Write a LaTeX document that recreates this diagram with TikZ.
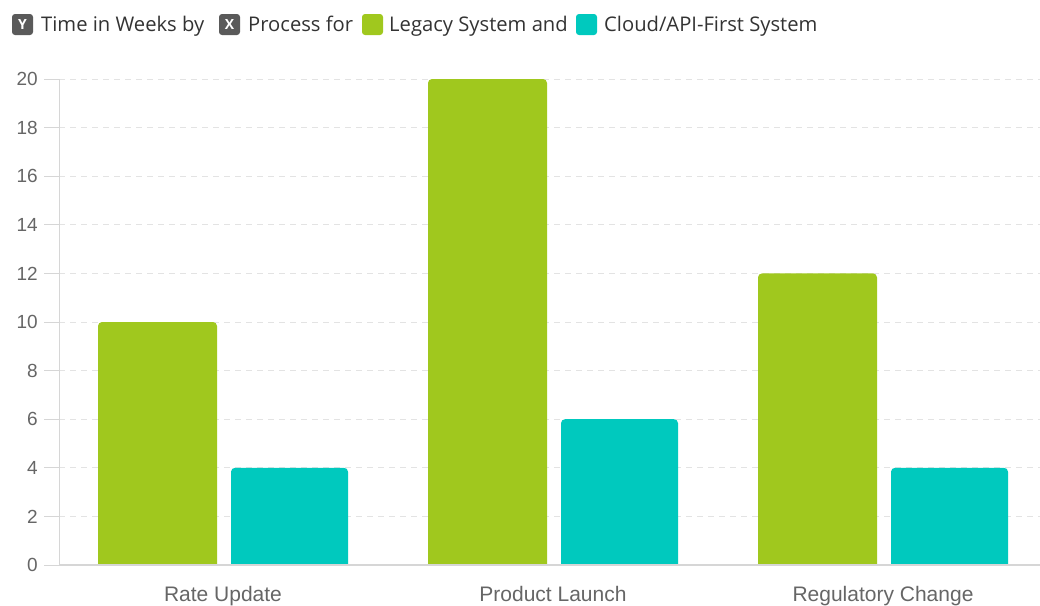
\documentclass[tikz,border=0pt]{standalone}
\usepackage{fontspec}
\setmainfont{Liberation Sans}
\newfontfamily\legfont{Open Sans}
\definecolor{cgreen}{HTML}{A0C81E}
\definecolor{cteal}{HTML}{00C9BE}
\definecolor{cgrid}{HTML}{E3E3E3}
\definecolor{caxis}{HTML}{D6D6D6}
\definecolor{clabel}{HTML}{666666}
\definecolor{cleg}{HTML}{333333}
\definecolor{cicon}{HTML}{5A5A5A}
\tikzset{
  legtext/.style={anchor=base west, inner sep=0pt, font=\legfont\fontsize{20.2}{23}\selectfont, text=cleg},
  icon/.style={fill=cicon, rounded corners=3pt, minimum width=21pt, minimum height=21pt, inner sep=0pt, text=white, font=\legfont\bfseries\fontsize{14}{16}\selectfont},
  swatch/.style={rounded corners=3pt, minimum width=21pt, minimum height=21pt, inner sep=0pt},
  ylab/.style={anchor=east, inner sep=0pt, font=\fontsize{19}{22}\selectfont, text=clabel},
  xlab/.style={anchor=base, inner sep=0pt, font=\fontsize{21}{24}\selectfont, text=clabel},
  gridline/.style={draw=cgrid, line width=1pt, dash pattern=on 6pt off 5pt},
}
\begin{document}
\begin{tikzpicture}[x=1pt,y=-1pt]
\useasboundingbox (0,0) rectangle (1040,605);
% legend
\node[icon] (iy) at (22.5,24.5) {Y};
\node[legtext] (ty) at (41,31.5) {Time in Weeks by};
\node[icon] (ix) at (229.5,24.5) {X};
\node[legtext] (tx) at (248,31.5) {Process for};
\node[swatch, fill=cgreen] (sg) at (372.5,24.5) {};
\node[legtext] (tg) at (389,31.5) {Legacy System and};
\node[swatch, fill=cteal] (st) at (586.5,24.5) {};
\node[legtext] (tt) at (604,31.5) {Cloud/API-First System};
% grid and y labels
\foreach \v in {2,4,...,20} {
  \pgfmathsetmacro{\yy}{565-24.3*\v}
  \draw[gridline] (59,\yy) -- (1040,\yy);
}
\foreach \v in {0,2,...,20} {
  \pgfmathsetmacro{\yy}{565-24.3*\v}
  \draw[caxis, line width=1pt] (44,\yy) -- (59,\yy);
  \node[ylab] (yl\v) at (38,\yy) {\v};
}
\draw[caxis, line width=1pt] (59,79) -- (59,565);
% bars
\foreach \cx/\g/\t in {223/10/4, 553/20/6, 883/12/4} {
  \pgfmathsetmacro{\gt}{565-24.3*\g}
  \pgfmathsetmacro{\tt}{565-24.3*\t}
  \fill[cgreen] (\cx-125,565) [rounded corners=4pt] -- (\cx-125,\gt) -- (\cx-6,\gt) [sharp corners] -- (\cx-6,565) -- cycle;
  \fill[cteal] (\cx+8,565) [rounded corners=4pt] -- (\cx+8,\tt) -- (\cx+125,\tt) [sharp corners] -- (\cx+125,565) -- cycle;
}
\draw[caxis, line width=1.2pt] (59,565) -- (1040,565);
% x labels
\node[xlab] (x1) at (223,601.5) {Rate Update};
\node[xlab] (x2) at (553,601.5) {Product Launch};
\node[xlab] (x3) at (883,601.5) {Regulatory Change};
\end{tikzpicture}
\end{document}
